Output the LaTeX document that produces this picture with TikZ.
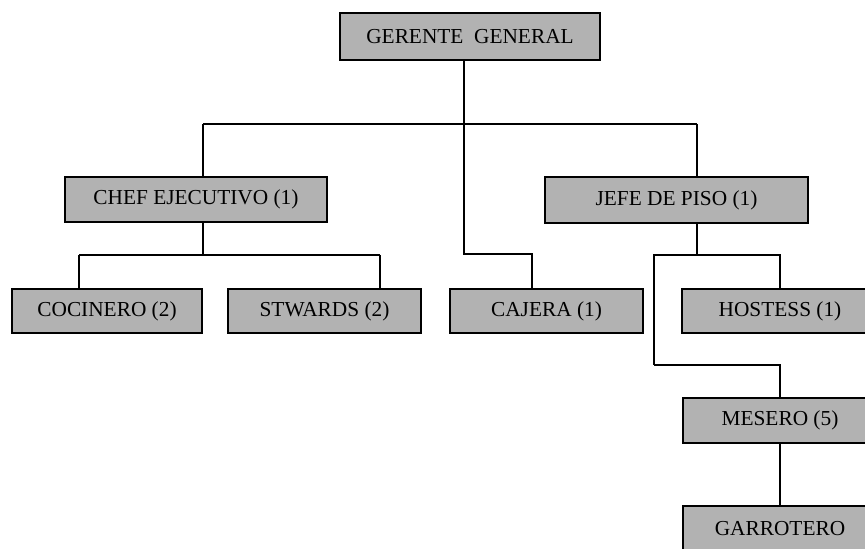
\documentclass[tikz,border=0pt]{standalone}
\usepackage{fontspec}
\setmainfont{Liberation Serif}
\newcommand{\pxu}{0.75pt}
\tikzset{
  box/.style={draw=black, line width=1.4pt, fill=black!30, inner sep=0pt,
    font=\fontsize{16}{19}\selectfont, text=black},
  conn/.style={draw=black, line width=1pt}
}
\begin{document}
\begin{tikzpicture}[x=0.75pt, y=-0.75pt]
\fill[white] (0,0) rectangle (865,549);
\useasboundingbox (0,0) rectangle (865,549);
\clip (0,0) rectangle (865,549);

% nodes
\node[box, minimum width=260*\pxu, minimum height=47*\pxu] (gg) at (470,36.5) {GERENTE\enspace GENERAL};
\node[box, minimum width=262*\pxu, minimum height=45*\pxu] (chef) at (196,199.5) {CHEF EJECUTIVO (1)};
\node[box, minimum width=263*\pxu, minimum height=46*\pxu] (jefe) at (676.5,200) {JEFE DE PISO (1)};
\node[box, minimum width=190*\pxu, minimum height=44*\pxu] (coc) at (107,311) {COCINERO (2)};
\node[box, minimum width=193*\pxu, minimum height=44*\pxu] (stw) at (324.5,311) {STWARDS (2)};
\node[box, minimum width=193*\pxu, minimum height=44*\pxu] (caj) at (546.5,311) {CAJERA (1)};
\node[box, minimum width=196*\pxu, minimum height=44*\pxu] (host) at (780,311) {HOSTESS (1)};
\node[box, minimum width=194*\pxu, minimum height=45*\pxu] (mes) at (780,420.5) {MESERO (5)};
\node[box, minimum width=194*\pxu, minimum height=45*\pxu] (gar) at (780,528.5) {GARROTERO};

% bus points
\coordinate (b0) at (464,124);
\coordinate (bc) at (203,124);
\coordinate (bj) at (697,124);
\coordinate (kaj) at (464,254);
\coordinate (kaj2) at (532,254);
\coordinate (kc) at (203,255);
\coordinate (kcl) at (79,255);
\coordinate (kcr) at (380,255);
\coordinate (kj) at (697,255);
\coordinate (kjl) at (654,255);
\coordinate (kjr) at (780,255);
\coordinate (km) at (654,365);
\coordinate (km2) at (780,365);

% connectors
\draw[conn] (gg.south -| b0) -- (b0);
\draw[conn] (bc) -- (bj);
\draw[conn] (bc) -- (chef.north -| bc);
\draw[conn] (bj) -- (jefe.north -| bj);
\draw[conn] (b0) -- (kaj) -- (kaj2) -- (caj.north -| kaj2);
\draw[conn] (chef.south -| kc) -- (kc);
\draw[conn] (kcl) -- (kcr);
\draw[conn] (kcl) -- (coc.north -| kcl);
\draw[conn] (kcr) -- (stw.north -| kcr);
\draw[conn] (jefe.south -| kj) -- (kj);
\draw[conn] (km) -- (kjl) -- (kjr) -- (host.north -| kjr);
\draw[conn] (km) -- (km2) -- (mes.north);
\draw[conn] (mes.south) -- (gar.north);
\end{tikzpicture}
\end{document}
